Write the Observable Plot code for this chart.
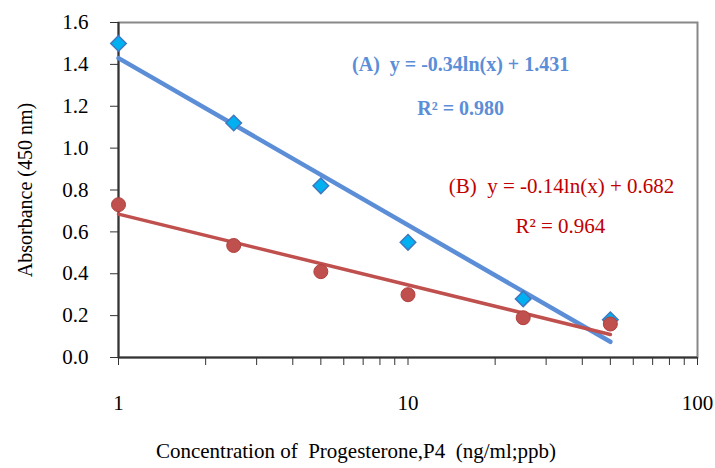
<!DOCTYPE html>
<html>
<head>
<meta charset="utf-8">
<script src="https://cdn.jsdelivr.net/npm/d3@7"></script>
<script src="https://cdn.jsdelivr.net/npm/@observablehq/plot@0.6"></script>
<style>
  html, body { margin: 0; padding: 0; background: #fff; }
  #chart { width: 715px; height: 468px; }
</style>
</head>
<body>
<div id="chart"></div>
<script>
// Concentrations (ng/ml)
const conc = [1, 2.5, 5, 10, 25, 50];
// Series A (blue diamonds)
const absA = [1.50, 1.12, 0.82, 0.55, 0.28, 0.18];
// Series B (red circles)
const absB = [0.73, 0.535, 0.41, 0.30, 0.19, 0.16];
// Trend line endpoints
const trendX = [1, 50];
const trendA = [1.43, 0.075];
const trendB = [0.685, 0.11];
// Axis ticks
const yTicks = [0, 0.2, 0.4, 0.6, 0.8, 1.0, 1.2, 1.4, 1.6];
const xTicks = [1, 2, 3, 4, 5, 6, 7, 8, 9, 10, 20, 30, 40, 50, 60, 70, 80, 90, 100];
const xLabeled = [1, 10, 100];
// Annotations
const annLabelsA = ["(A)  y = -0.34ln(x) + 1.431", "R² = 0.980"];
const annXA = [15.2, 15.2];
const annYA = [1.40, 1.19];
const annLabelsB = ["(B)  y = -0.14ln(x) + 0.682", "R² = 0.964"];
const annXB = [33.9, 33.6];
const annYB = [0.82, 0.625];

const ptsA = conc.map((c, i) => ({x: c, y: absA[i]}));
const ptsB = conc.map((c, i) => ({x: c, y: absB[i]}));
const lineA = trendX.map((c, i) => ({x: c, y: trendA[i]}));
const lineB = trendX.map((c, i) => ({x: c, y: trendB[i]}));
const annA = annLabelsA.map((t, i) => ({text: t, x: annXA[i], y: annYA[i]}));
const annB = annLabelsB.map((t, i) => ({text: t, x: annXB[i], y: annYB[i]}));

const blueLine = "#5B8ED7";
const redLine = "#C0504D";

const chart = Plot.plot({
  width: 715,
  height: 468,
  marginLeft: 118,
  marginRight: 18,
  marginTop: 22,
  marginBottom: 111,
  style: {fontFamily: "'Liberation Serif', 'Times New Roman', serif", fontSize: "21px", color: "#000", background: "#fff"},
  x: {type: "log", domain: [1, 100]},
  y: {domain: [0, 1.6]},
  marks: [
    Plot.frame({stroke: "#888", strokeWidth: 2}),
    Plot.axisY({ticks: yTicks, tickFormat: d => d.toFixed(1), tickSize: 8, tickPadding: 22, fontSize: 21, label: null, stroke: "#333"}),
    Plot.axisX({ticks: xTicks, tickFormat: d => xLabeled.includes(d) ? String(d) : "", tickSize: 8, tickPadding: 30, fontSize: 21, label: null, stroke: "#333"}),
    Plot.text(["Absorbance (450 nm)"], {frameAnchor: "left", textAnchor: "middle", dx: -93, rotate: -90, fontSize: 20}),
    Plot.text(["Concentration of  Progesterone,P4  (ng/ml;ppb)"], {frameAnchor: "bottom", dy: 100, dx: -52, fontSize: 21}),
    Plot.ruleX([1], {stroke: "#333", strokeWidth: 2}),
    Plot.ruleY([0], {stroke: "#333", strokeWidth: 2}),
    Plot.line(lineA, {x: "x", y: "y", stroke: blueLine, strokeWidth: 4.5}),
    Plot.line(lineB, {x: "x", y: "y", stroke: redLine, strokeWidth: 3.5}),
    Plot.dot(ptsA, {x: "x", y: "y", symbol: "diamond2", r: 7, fill: "#00B0F0", stroke: "#3F78C0", strokeWidth: 1.5}),
    Plot.dot(ptsB, {x: "x", y: "y", r: 7, fill: redLine, stroke: "#B0403D", strokeWidth: 1}),
    Plot.text(annA, {x: "x", y: "y", text: "text", fontSize: 20, fill: "#5B8ED7", fontWeight: "bold"}),
    Plot.text(annB, {x: "x", y: "y", text: "text", fontSize: 21, fill: "#C00000"})
  ]
});
document.getElementById("chart").appendChild(chart);
</script>
</body>
</html>
